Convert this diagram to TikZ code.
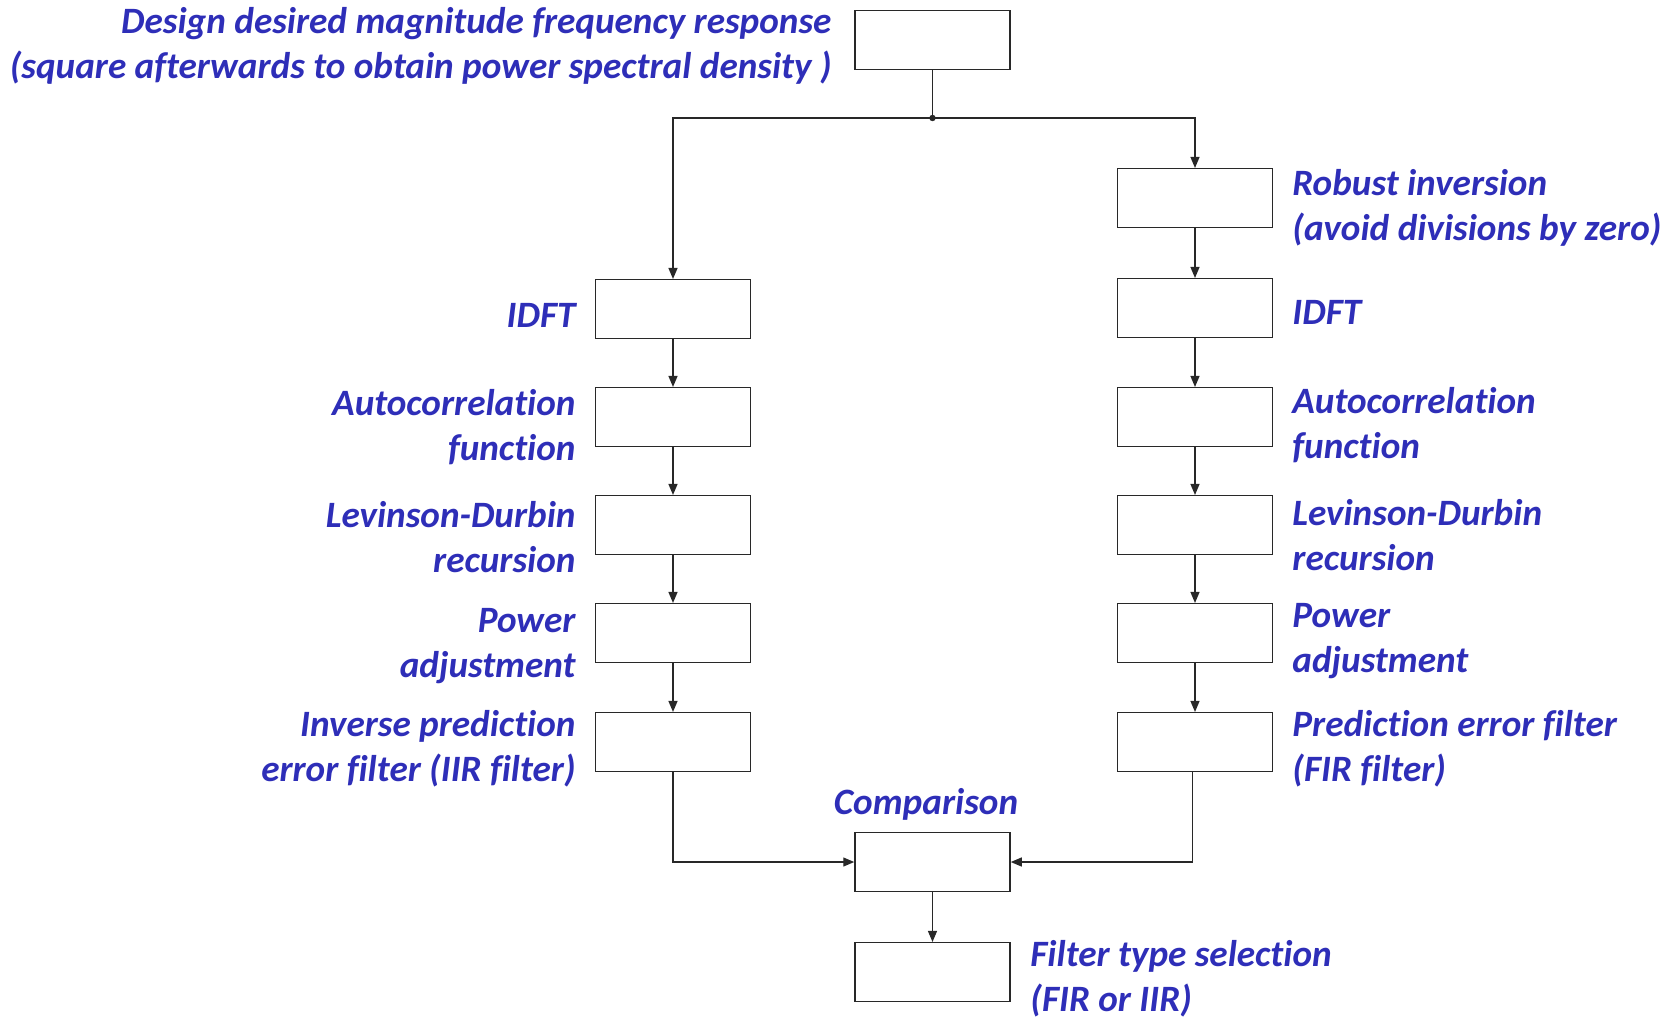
\documentclass[tikz,border=0pt]{standalone}
\usepackage{fontspec}
\setmainfont{Carlito}[Ligatures=NoCommon]
\usetikzlibrary{arrows.meta}
\definecolor{lblue}{RGB}{46,46,184}
\definecolor{lgray}{RGB}{40,40,40}
\begin{document}
\begin{tikzpicture}[x=0.5pt,y=-0.5pt,
  blk/.style={draw=lgray,line width=0.75pt,fill=white,minimum width=77.5pt,minimum height=29.3pt,inner sep=0pt},
  lab/.style={text=lblue,font=\fontsize{18.6}{22.5}\selectfont\bfseries\itshape,inner sep=0pt},
  conn/.style={draw=lgray,line width=0.6pt,-{Triangle[length=5.5pt,width=4.5pt]}},
  plain/.style={draw=lgray,line width=0.6pt}]
\useasboundingbox (0,0) rectangle (1672,1024);
% boxes
\node[blk] (top) at (932.5,40) {};
\node[blk] (lidft) at (673,309) {};
\node[blk] (lauto) at (673,417) {};
\node[blk] (llev) at (673,525) {};
\node[blk] (lpow) at (673,633) {};
\node[blk] (linv) at (673,742) {};
\node[blk] (rrob) at (1195,198) {};
\node[blk] (ridft) at (1195,308) {};
\node[blk] (rauto) at (1195,417) {};
\node[blk] (rlev) at (1195,525) {};
\node[blk] (rpow) at (1195,633) {};
\node[blk] (rpred) at (1195,742) {};
\node[blk] (cmp) at (932.5,862) {};
\node[blk] (sel) at (932.5,972) {};
% labels
\node[lab,anchor=east,align=right] (ltop) at (832,46) {Design desired magnitude frequency response\\(square afterwards to obtain power spectral density )};
\node[lab,anchor=east,align=right] (l1) at (576,315) {IDFT};
\node[lab,anchor=east,align=right] (l2) at (576,427) {Autocorrelation\\function};
\node[lab,anchor=east,align=right] (l3) at (576,537) {Levinson-Durbin\\recursion};
\node[lab,anchor=east,align=right] (l4) at (576,646) {Power\\adjustment};
\node[lab,anchor=east,align=right] (l5) at (576,749) {Inverse prediction\\error filter (IIR filter)};
\node[lab,anchor=west,align=left] (r0) at (1292,208) {Robust inversion\\(avoid divisions by zero)};
\node[lab,anchor=west,align=left] (r1) at (1292,312) {IDFT};
\node[lab,anchor=west,align=left] (r2) at (1292,425) {Autocorrelation\\function};
\node[lab,anchor=west,align=left] (r3) at (1292,535) {Levinson-Durbin\\recursion};
\node[lab,anchor=west,align=left] (r4) at (1292,641) {Power\\adjustment};
\node[lab,anchor=west,align=left] (r5) at (1292,749) {Prediction error filter\\(FIR filter)};
\node[lab] (lcmp) at (926,804) {Comparison};
\node[lab,anchor=west,align=left] (lsel) at (1030,979) {Filter type selection\\(FIR or IIR)};
% connectors
\coordinate (j) at (932.5,118);
\draw[plain] (top.south) -- (j);
\draw[conn] (j) -| (lidft.north);
\draw[conn] (j) -| (rrob.north);
\fill[lgray] (j) circle (1.6pt);
\draw[conn] (rrob) -- (ridft);
\draw[conn] (ridft) -- (rauto);
\draw[conn] (rauto) -- (rlev);
\draw[conn] (rlev) -- (rpow);
\draw[conn] (rpow) -- (rpred);
\draw[conn] (lidft) -- (lauto);
\draw[conn] (lauto) -- (llev);
\draw[conn] (llev) -- (lpow);
\draw[conn] (lpow) -- (linv);
\draw[conn] (linv.south) |- (cmp.west);
\draw[conn] ([xshift=-1.25pt]rpred.south) |- (cmp.east);
\draw[conn] (cmp) -- (sel);
\end{tikzpicture}
\end{document}
